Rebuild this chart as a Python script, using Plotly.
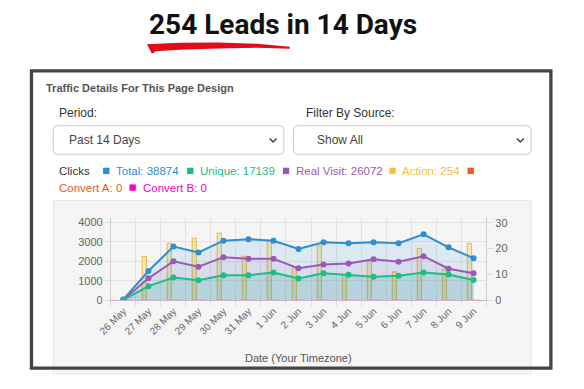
import plotly.graph_objects as go

# ---------------- data ----------------
dates = ["26 May", "27 May", "28 May", "29 May", "30 May", "31 May", "1 Jun", "2 Jun",
         "3 Jun", "4 Jun", "5 Jun", "6 Jun", "7 Jun", "8 Jun", "9 Jun"]
total = [50, 1500, 2750, 2450, 3050, 3130, 3050, 2630, 2970, 2920, 2970, 2920, 3380, 2710, 2160]
real_visit = [40, 1130, 2000, 1720, 2210, 2130, 2130, 1640, 1840, 1890, 2100, 1980, 2260, 1620, 1390]
unique = [30, 730, 1170, 1030, 1290, 1290, 1420, 1120, 1390, 1310, 1210, 1260, 1420, 1320, 1040]
action = [0, 17, 22, 24, 26, 17, 23, 13, 21, 10, 15, 11, 20, 12, 22]
convert_a = [0] * 15
convert_b = [0] * 15

left_ticks = [0, 1000, 2000, 3000, 4000]
right_ticks = [0, 10, 20, 30]

legend_items = [
    ("Total: 38874", "#2e8ece"),
    ("Unique: 17139", "#1dbd84"),
    ("Real Visit: 26072", "#9b59b6"),
    ("Action: 254", "#f2c140"),
    ("Convert A: 0", "#ea5a22"),
    ("Convert B: 0", "#f800c8"),
]

C_TOTAL, C_UNIQUE, C_REAL, C_ACTION, C_CA, C_CB = [c for _, c in legend_items]

# page body has an 8px margin on every side; size the figure so the page
# never overflows the 584x389 window, and map window pixels into it
OFF = 8
W, H = 584 - 2 * OFF, 389 - 2 * OFF
def X(p): return (p - OFF) / W
def Y(p): return 1 - (p - OFF) / H

def path(points, close=True):
    s = "M" + " L".join(f"{X(x):.5f},{Y(y):.5f}" for x, y in points)
    return s + (" Z" if close else "")

def rrect(x0, y0, x1, y1, r):
    P = lambda x, y: f"{X(x):.5f},{Y(y):.5f}"
    return (f"M{P(x0+r,y0)} L{P(x1-r,y0)} Q{P(x1,y0)} {P(x1,y0+r)} L{P(x1,y1-r)} "
            f"Q{P(x1,y1)} {P(x1-r,y1)} L{P(x0+r,y1)} Q{P(x0,y1)} {P(x0,y1-r)} "
            f"L{P(x0,y0+r)} Q{P(x0,y0)} {P(x0+r,y0)} Z")

fig = go.Figure()

# bars on base axis y (right side)
fig.add_trace(go.Bar(x=dates, y=action, yaxis="y", name="Action",
                     marker=dict(color="rgba(242,193,64,0.28)",
                                 line=dict(color="rgba(236,190,60,0.9)", width=1.2))))
fig.add_trace(go.Bar(x=dates, y=convert_a, yaxis="y", name="Convert A",
                     marker=dict(color=C_CA, line=dict(color=C_CA, width=0.8))))
fig.add_trace(go.Bar(x=dates, y=convert_b, yaxis="y", name="Convert B",
                     marker=dict(color=C_CB, line=dict(color=C_CB, width=0.8))))

# lines on overlay axis y2 (left side)
for vals, col, fillc in [
    (total, C_TOTAL, "rgba(52,152,219,0.13)"),
    (real_visit, C_REAL, "rgba(155,89,182,0.09)"),
    (unique, C_UNIQUE, "rgba(26,170,156,0.16)"),
]:
    fig.add_trace(go.Scatter(x=dates, y=vals, yaxis="y2", mode="lines+markers",
                             fill="tozeroy", fillcolor=fillc,
                             line=dict(color=col, width=2),
                             marker=dict(color=col, size=6)))

shapes = []
# gray chart panel
shapes.append(dict(type="rect", xref="paper", yref="paper", layer="below",
                   x0=X(41), x1=X(530), y0=Y(380), y1=Y(203),
                   fillcolor="#f5f5f5", line=dict(color="#e4e4e4", width=1)))
# dropdowns
for (x0, x1) in [(41, 277), (287, 530)]:
    shapes.append(dict(type="path", xref="paper", yref="paper", layer="below",
                       path=rrect(x0, 127, x1, 156, 4),
                       fillcolor="white", line=dict(color="#cccccc", width=1)))
    cx = x1 - 11
    shapes.append(dict(type="path", xref="paper", yref="paper",
                       path=path([(cx - 3.5, 140), (cx, 143.5), (cx + 3.5, 140)], close=False),
                       line=dict(color="#444444", width=1.6)))
# red brush stroke under title
shapes.append(dict(type="path", xref="paper", yref="paper",
                   path=path([(137, 44), (170, 42.5), (210, 42.2), (250, 43.5), (283, 46.5),
                              (283, 48.5), (250, 47.5), (210, 48.2), (170, 49.5), (146, 51),
                              (142, 53.5)]),
                   fillcolor="#e30b17", line=dict(width=0)))
# legend squares
sq = 6.5
row1 = 173
row2 = 190
sq_pos = [(92, row1), (178, row1), (276, row1), (385, row1), (465, row1), (119, row2)]
for (sx, sy), (_, col) in zip(sq_pos, legend_items):
    shapes.append(dict(type="rect", xref="paper", yref="paper",
                       x0=X(sx), x1=X(sx + sq), y0=Y(sy + sq / 2), y1=Y(sy - sq / 2),
                       fillcolor=col, line=dict(width=0)))
# dark frame
shapes.append(dict(type="rect", xref="paper", yref="paper",
                   x0=X(18.7), x1=X(550.3), y0=Y(374), y1=Y(71),
                   line=dict(color="#444444", width=3.3), fillcolor="rgba(0,0,0,0)"))

BODY = "Liberation Sans, Arial, sans-serif"
ann = []
def text(t, x, y, size, color, anchor="left", bold=False, family=BODY):
    ann.append(dict(text=t, x=X(x), y=Y(y), xref="paper", yref="paper",
                    xanchor=anchor, yanchor="middle", showarrow=False,
                    font=dict(family=family, size=size, color=color,
                              weight=700 if bold else 400)))

text("254 Leads in 14 Days", 276, 24, 28, "#111111", anchor="center", bold=True,
     family="Roboto, sans-serif")
text("Traffic Details For This Page Design", 32, 89, 11, "#555555", bold=True)
text("Period:", 45, 114, 12, "#333333")
text("Filter By Source:", 298, 114, 12, "#333333")
text("Past 14 Days", 55, 142, 12, "#444444")
text("Show All", 309, 142, 12, "#444444")
text("Clicks", 45, row1, 11.5, "#333333")
text_pos = [(103, row1), (189, row1), (287, row1), (396, row1), (45, row2), (131, row2)]
for (tx, ty), (t, col) in zip(text_pos, legend_items):
    text(t, tx, ty, 11.5, col)
text("Date (Your Timezone)", 292, 364, 11, "#555555", anchor="center")

fig.update_layout(
    width=W, height=H, autosize=False,
    margin=dict(l=0, r=0, t=0, b=0),
    paper_bgcolor="white", plot_bgcolor="rgba(0,0,0,0)",
    showlegend=False,
    barmode="group", bargap=0.5, bargroupgap=0,
    shapes=shapes, annotations=ann,
    xaxis=dict(domain=[X(100), X(484)], type="category", range=[-0.5, 14.5],
               tickson="boundaries", ticks="outside", ticklen=5, tickcolor="#dddddd",
               showgrid=True, gridcolor="#e2e2e2", gridwidth=1,
               showline=True, linecolor="#d2aecb", linewidth=1,
               tickangle=-45, tickfont=dict(family=BODY, size=10, color="#666666"),
               zeroline=False, fixedrange=True),
    yaxis=dict(domain=[Y(305), Y(220)], side="right", range=[0, 32.2],
               tickvals=right_ticks, ticks="outside", ticklen=6, tickcolor="#dddddd",
               showgrid=False, showline=True, linecolor="#cccccc",
               zeroline=False, tickfont=dict(family=BODY, size=11, color="#666666")),
    yaxis2=dict(overlaying="y", side="left", range=[0, 4260],
                tickvals=left_ticks, ticks="outside", ticklen=5, tickcolor="#dddddd",
                showgrid=True, gridcolor="#e2e2e2", showline=True, linecolor="#cccccc",
                zeroline=False, tickfont=dict(family=BODY, size=11, color="#666666")),
)

fig.write_html("out.html")
